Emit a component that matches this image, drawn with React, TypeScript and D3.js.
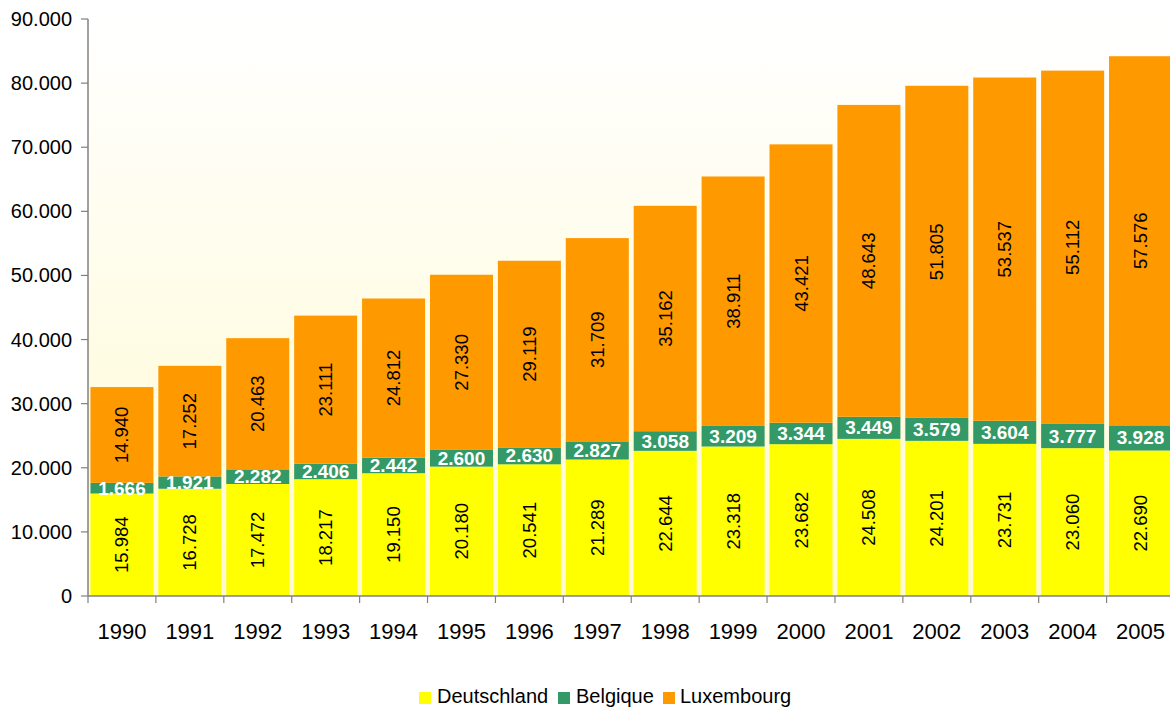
import React from "react";
import * as d3 from "d3";

const years = ["1990","1991","1992","1993","1994","1995","1996","1997","1998","1999","2000","2001","2002","2003","2004","2005"];
const deutschland = [15984,16728,17472,18217,19150,20180,20541,21289,22644,23318,23682,24508,24201,23731,23060,22690];
const belgique = [1666,1921,2282,2406,2442,2600,2630,2827,3058,3209,3344,3449,3579,3604,3777,3928];
const luxembourg = [14940,17252,20463,23111,24812,27330,29119,31709,35162,38911,43421,48643,51805,53537,55112,57576];
const seriesNames = ["Deutschland","Belgique","Luxembourg"];
const seriesColors = ["#FFFF00","#339966","#FF9900"];
const yTicks = [0,10000,20000,30000,40000,50000,60000,70000,80000,90000];

const W = 1170, H = 708;
const left = 88, right = 1174.5, top = 19, bottom = 596;
const FONT = "Arial, 'Liberation Sans', sans-serif";

const locale = d3.formatLocale({ decimal: ",", thousands: ".", grouping: [3], currency: ["", "€"] });
const fmt = locale.format(",d");

export default function App() {
  const x = d3.scaleBand<string>().domain(years).range([left, right]).paddingInner(0.072).paddingOuter(0.036);
  const y = d3.scaleLinear().domain([0, 90000]).range([bottom, top]);
  const table = years.map((yr, i) => ({ year: yr, Deutschland: deutschland[i], Belgique: belgique[i], Luxembourg: luxembourg[i] }));
  const stack = d3.stack<any>().keys(seriesNames)(table);
  const step = x.step();
  const bw = x.bandwidth();

  const legendItems = [
    { name: "Deutschland", sx: 419, tx: 437 },
    { name: "Belgique", sx: 558, tx: 576 },
    { name: "Luxembourg", sx: 663, tx: 680 },
  ];

  return (
    <svg width={W} height={H} style={{ position: "absolute", left: 0, top: 0 }} fontFamily={FONT}>
      <defs>
        <linearGradient id="bg" x1="0" y1="0" x2="0" y2="1">
          <stop offset="0" stopColor="#FFFFFF" />
          <stop offset="1" stopColor="#FFFAD2" />
        </linearGradient>
      </defs>
      <rect x={0} y={0} width={W} height={H} fill="#FFFFFF" />
      <rect x={left} y={top} width={right - left} height={bottom - top} fill="url(#bg)" />
      {stack.map((layer, si) => (
        <g key={seriesNames[si]}>
          {layer.map((d, i) => (
            <rect key={i} x={x(years[i])!} y={y(d[1])} width={bw} height={y(d[0]) - y(d[1])} fill={seriesColors[si]} />
          ))}
        </g>
      ))}
      {stack.map((layer, si) => (
        <g key={"lab" + si}>
          {layer.map((d, i) => {
            const cx = x(years[i])! + bw / 2;
            const cy = (y(d[0]) + y(d[1])) / 2;
            const v = d[1] - d[0];
            if (si === 1) {
              return (
                <text key={i} x={cx} y={cy} textAnchor="middle" dominantBaseline="central" fill="#FFFFFF" fontWeight="bold" fontSize={19}>{fmt(v)}</text>
              );
            }
            return (
              <text key={i} transform={`translate(${cx},${cy}) rotate(-90)`} textAnchor="middle" dominantBaseline="central" fill="#000000" fontSize={18.5}>{fmt(v)}</text>
            );
          })}
        </g>
      ))}
      {/* Y axis */}
      <line x1={left} x2={left} y1={top} y2={bottom} stroke="#808080" strokeWidth={1.5} />
      {yTicks.map((t) => (
        <g key={t}>
          <line x1={left - 7} x2={left} y1={y(t)} y2={y(t)} stroke="#808080" strokeWidth={1.2} />
          <text x={72} y={y(t)} textAnchor="end" dominantBaseline="central" fontSize={20} fill="#000">{fmt(t)}</text>
        </g>
      ))}
      {/* X axis */}
      <line x1={left} x2={right} y1={bottom} y2={bottom} stroke="#808080" strokeWidth={1.5} />
      {years.map((yr, i) => (
        <g key={yr}>
          <line x1={x(yr)! - (step * 0.072) / 2} x2={x(yr)! - (step * 0.072) / 2} y1={bottom} y2={bottom + 7} stroke="#808080" strokeWidth={1.2} />
          <text x={x(yr)! + bw / 2} y={631} textAnchor="middle" dominantBaseline="central" fontSize={22} fill="#000">{yr}</text>
        </g>
      ))}
      {/* Legend */}
      {legendItems.map((it, i) => (
        <g key={it.name}>
          <rect x={it.sx} y={692} width={12} height={12} fill={seriesColors[i]} />
          <text x={it.tx} y={703} fontSize={20} fill="#000">{it.name}</text>
        </g>
      ))}
    </svg>
  );
}
